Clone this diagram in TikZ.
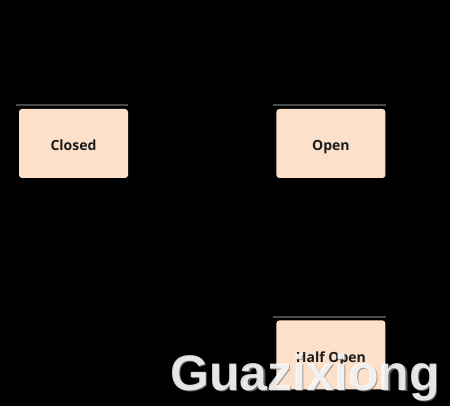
\documentclass[tikz,border=0pt]{standalone}
\usepackage{fontspec}
\setsansfont{Open Sans}
\newfontfamily\markfont{Liberation Sans}
\usetikzlibrary{positioning,calc}

\definecolor{statefill}{HTML}{FCE0C9}
\definecolor{statetext}{HTML}{1C1C1C}
\definecolor{edgegrey}{HTML}{4A4A4A}

\begin{document}
\begin{tikzpicture}[
  x=1pt, y=1pt,
  font=\sffamily\bfseries,
  node distance=148pt,
  state/.style={fill=statefill, rounded corners=3pt, minimum width=109pt, minimum height=69pt, align=center, text=statetext, font=\sffamily\bfseries\fontsize{14}{16}\selectfont, text height=15pt, text depth=0pt, inner sep=0pt},
  rim/.style={draw=edgegrey, line width=1.8pt},
  watermark/.style={font=\markfont\bfseries\fontsize{50}{50}\selectfont, inner sep=0pt, anchor=base west}
]

% ----- CANVAS -----
\fill[black] (0,0) rectangle (450,-406);
\useasboundingbox (0,0) rectangle (450,-406);

% ----- STATES -----
\node[state] (closed) at (73.5,-143.5) {Closed};
\node[state, right=148pt of closed] (open) {Open};
\node[state, below=142pt of open] (halfopen) {Half Open};

% ----- TOP RIMS -----
\foreach \s in {closed, open, halfopen}
  \draw[rim] ($(\s.north west)+(-3,3.5)$) -- ($(\s.north east)+(0,3.5)$);

% ----- WATERMARK -----
\node[watermark, text=gray, text opacity=0.7] (markshade) at (171.5,-391.5) {Guazixiong};
\node[watermark, text=white, text opacity=0.85] (mark) at (170,-390) {Guazixiong};

\end{tikzpicture}
\end{document}
